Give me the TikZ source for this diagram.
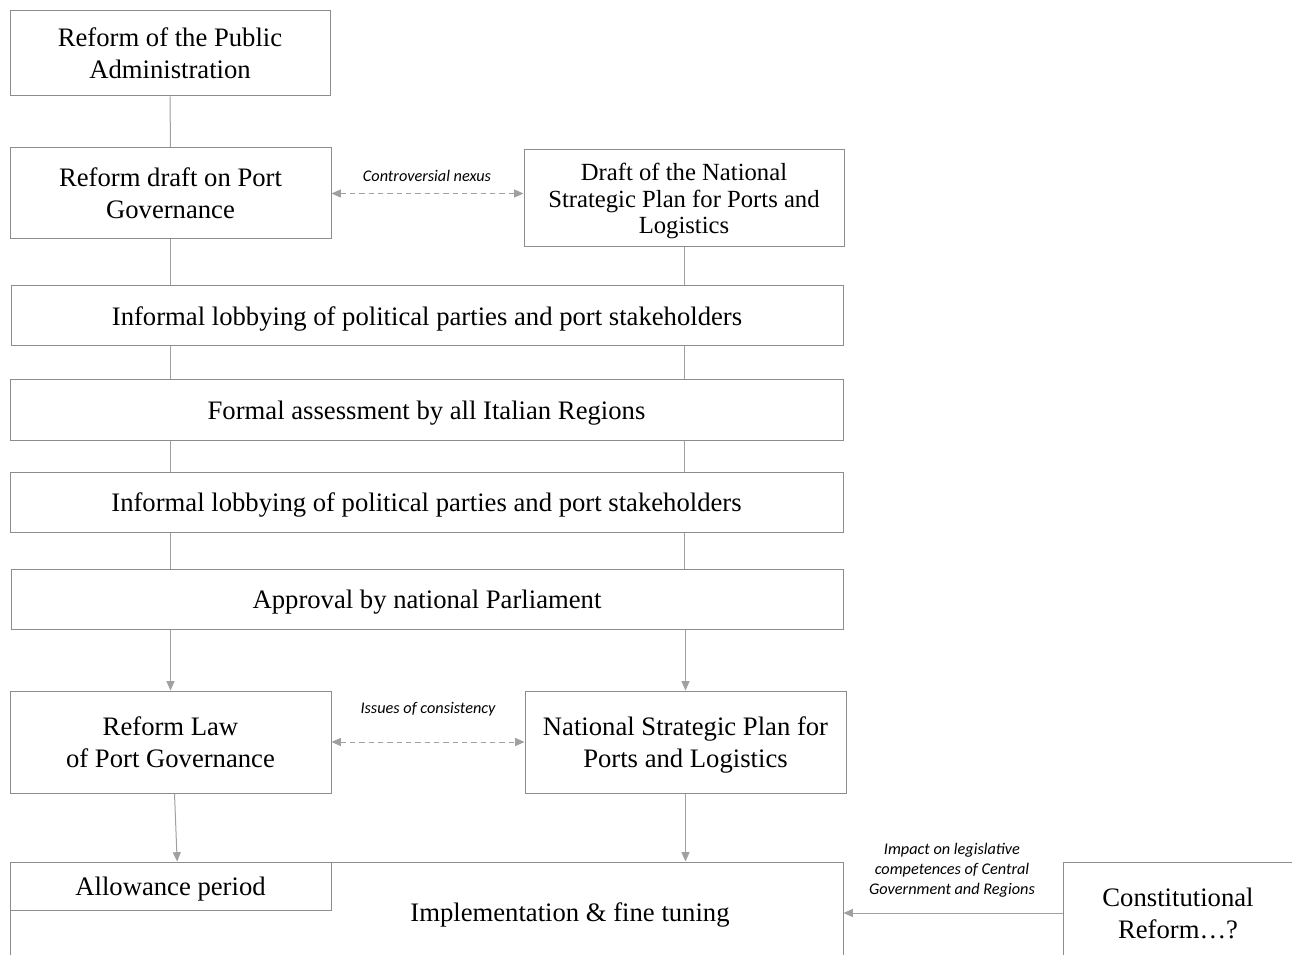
\documentclass[tikz,border=0pt]{standalone}
\usepackage{fontspec}
\setmainfont{Liberation Serif}
\newfontfamily\notefont{Carlito}
\usetikzlibrary{arrows.meta}

\definecolor{boxgray}{RGB}{140,140,140}
\definecolor{linkgray}{RGB}{160,160,160}

\tikzset{every picture/.style={line width=0.75pt}}
\tikzset{
  box/.style={draw=boxgray, rectangle, inner sep=0.75pt, align=center, text depth=0pt, font=\fontsize{20}{24}\selectfont},
  link/.style={draw=linkgray},
  flow/.style={draw=linkgray, -{Triangle[width=6pt,length=7pt]}},
  nexus/.style={draw=linkgray, dash pattern=on 4pt off 3pt, {Triangle[width=6pt,length=7pt]}-{Triangle[width=6pt,length=7pt]}},
  note/.style={inner sep=0.75pt, align=center, font=\notefont\itshape\fontsize{12.2}{15}\selectfont}
}

\begin{document}
\begin{tikzpicture}[x=0.75pt,y=0.75pt,yscale=-1,xscale=1]
\clip (0,0) rectangle (1292,955);

%Shape: Rectangle
\node [box, minimum width=240pt, minimum height=63.75pt] (pa) at (170,53.5) {Reform of the Public\\Administration};
%Shape: Rectangle
\node [box, minimum width=240.75pt, minimum height=68.25pt] (draft) at (170.5,193.5) {Reform draft on Port\\Governance};
%Shape: Rectangle
\node [box, minimum width=240pt, minimum height=72.75pt, font=\fontsize{18.5}{20}\selectfont] (nsdraft) at (684,198.5) {Draft of the National\\Strategic Plan for Ports and\\Logistics};
%Shape: Rectangle
\node [box, minimum width=624pt, minimum height=45pt] (lobbyA) at (427,316) {Informal lobbying of political parties and port stakeholders};
%Shape: Rectangle
\node [box, minimum width=624.75pt, minimum height=45pt] (assess) at (426.5,410) {Formal assessment by all Italian Regions};
%Shape: Rectangle
\node [box, minimum width=624.75pt, minimum height=45pt] (lobbyB) at (426.5,502) {Informal lobbying of political parties and port stakeholders};
%Shape: Rectangle
\node [box, minimum width=624pt, minimum height=45pt] (approval) at (427,599) {Approval by national Parliament};
%Shape: Rectangle
\node [box, minimum width=240.75pt, minimum height=76.5pt] (law) at (170.5,742) {Reform Law\\of Port Governance};
%Shape: Rectangle
\node [box, minimum width=240.75pt, minimum height=76.5pt] (nsp) at (685.5,742) {National Strategic Plan for\\Ports and Logistics};
%Shape: Rectangle
\node [box, minimum width=624.75pt, minimum height=75pt] (impl) at (426.5,912) {};
%Shape: Rectangle
\node [box, minimum width=240.75pt, minimum height=36pt] (allow) at (170.5,886) {Allowance period};
%Shape: Rectangle
\node [box, minimum width=172.5pt, minimum height=76.5pt] (const) at (1178,913) {Constitutional\\Reform\dots?};

% Text Node
\node [box, draw=none] (impltext) at (570,912) {Implementation \& fine tuning};

%Straight Lines
\draw [link] (pa.south) -- (draft.north);
\draw [link] (draft.south) -- (draft.south |- lobbyA.north);
\draw [link] (nsdraft.south) -- (nsdraft.south |- lobbyA.north);
\draw [link] (lobbyA.south -| draft) -- (assess.north -| draft);
\draw [link] (lobbyA.south -| nsdraft) -- (assess.north -| nsdraft);
\draw [link] (assess.south -| draft) -- (lobbyB.north -| draft);
\draw [link] (assess.south -| nsdraft) -- (lobbyB.north -| nsdraft);
\draw [link] (lobbyB.south -| draft) -- (approval.north -| draft);
\draw [link] (lobbyB.south -| nsdraft) -- (approval.north -| nsdraft);

%Arrows
\draw [flow] (approval.south -| law) -- (law.north);
\draw [flow] (approval.south -| nsp) -- (nsp.north);
\draw [flow] ([xshift=3pt]law.south) -- ([xshift=5pt]allow.north);
\draw [flow] (nsp.south) -- (nsp.south |- impl.north);
\draw [flow] (const.west) -- (const.west -| impl.east);

%Dashed Arrows
\draw [nexus] (draft.east) -- (draft.east -| nsdraft.west);
\draw [nexus] (law.east) -- (nsp.west);

% Text Node
\node [note] (nexuslbl) at (427,176) {Controversial nexus};
% Text Node
\node [note] (consistlbl) at (428,709) {Issues of consistency};
% Text Node
\node [note] (impactlbl) at (952,870) {Impact on legislative\\competences of Central\\Government and Regions};

\end{tikzpicture}
\end{document}
